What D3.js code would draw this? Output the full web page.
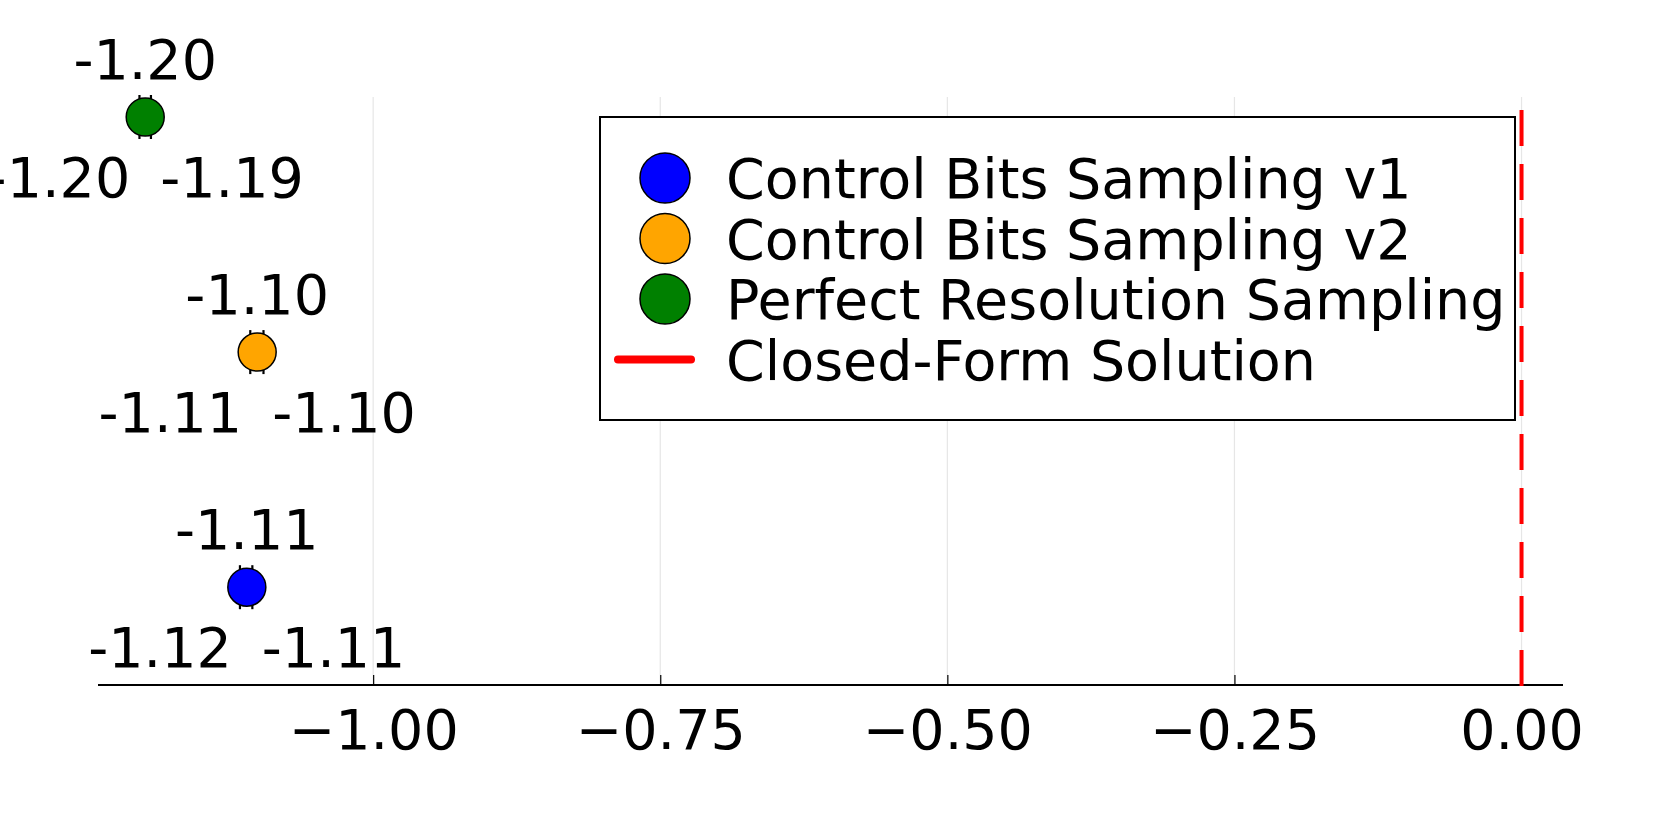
<!DOCTYPE html>
<html>
<head>
<meta charset="utf-8">
<script src="https://cdn.jsdelivr.net/npm/d3@7"></script>
<style>
	html, body { margin: 0; padding: 0; background: #fff; }
	svg { display: block; font-family: "DejaVu Sans", sans-serif; }
</style>
</head>
<body>
<svg id="chart" width="1661" height="830"></svg>
<script>
const seriesNames = ['Control Bits Sampling v1', 'Control Bits Sampling v2', 'Perfect Resolution Sampling'],
	seriesLevel = [1, 2, 3],
	seriesMean = [-1.1100, -1.1010, -1.1985],
	seriesLow = [-1.1160, -1.1070, -1.2035],
	seriesHigh = [-1.1052, -1.0955, -1.1935];

const closedForm = 0,
	closedFormName = 'Closed-Form Solution';

const xTicks = [-1.00, -0.75, -0.50, -0.25, 0.00];

const COLORS = ['#0000ff', '#ffa500', '#008000'],
	FONT = 55.5,
	MARKER_R = 19;

const width = 1661, height = 830,
	plot = { left: 98, right: 1563, top: 97, bottom: 685 };

const svg = d3.select('#chart');

// x range padded 3% like Plots.jl
const xMin = d3.min([...seriesLow, closedForm]),
	xMax = d3.max([...seriesHigh, closedForm]),
	pad = (xMax - xMin) * 0.03;

const x = d3.scaleLinear()
	.domain([xMin - pad, xMax + pad])
	.range([plot.left, plot.right]);

const y = d3.scaleLinear()
	.domain([0.584, 3.085])
	.range([plot.bottom, plot.top]);

const data = seriesNames.map((name, i) => ({
	name, level: seriesLevel[i], mean: seriesMean[i],
	lo: seriesLow[i], hi: seriesHigh[i], color: COLORS[i]
}));

// grid
svg.append('g')
	.selectAll('line')
	.data(xTicks)
	.join('line')
	.attr('x1', d => x(d)).attr('x2', d => x(d))
	.attr('y1', plot.top).attr('y2', plot.bottom)
	.attr('stroke', '#e6e6e6')
	.attr('stroke-width', 1.2);

// x axis
const axis = svg.append('g')
	.attr('transform', `translate(0,${plot.bottom})`)
	.call(d3.axisBottom(x)
		.tickValues(xTicks)
		.tickSize(-10)
		.tickSizeOuter(0)
		.tickFormat(d3.format('.2f'))
	);
axis.select('.domain').attr('stroke-width', 2).attr('d', `M${plot.left},0H${plot.right}`);
axis.selectAll('.tick line').attr('stroke-width', 1.2);
axis.selectAll('.tick text')
	.attr('y', 64).attr('dy', null)
	.attr('font-size', FONT)
	.attr('font-family', '"DejaVu Sans", sans-serif')
	.attr('fill', '#000');

// closed-form vline
svg.append('line')
	.attr('x1', x(closedForm)).attr('x2', x(closedForm))
	.attr('y1', plot.bottom + 1).attr('y2', plot.top)
	.attr('stroke', '#ff0000')
	.attr('stroke-width', 4)
	.attr('stroke-dasharray', '36 18');

// error bars with caps
const pts = svg.append('g');
data.forEach(d => {
	const cy = y(d.level);
	pts.append('line')
		.attr('x1', x(d.lo)).attr('x2', x(d.hi))
		.attr('y1', cy).attr('y2', cy)
		.attr('stroke', '#000').attr('stroke-width', 1.5);
	[d.lo, d.hi].forEach(v => {
		pts.append('line')
			.attr('x1', x(v)).attr('x2', x(v))
			.attr('y1', cy - 22).attr('y2', cy + 22)
			.attr('stroke', '#000').attr('stroke-width', 2.2);
	});
});

pts.selectAll('circle')
	.data(data)
	.join('circle')
	.attr('cx', d => x(d.mean))
	.attr('cy', d => y(d.level))
	.attr('r', MARKER_R)
	.attr('fill', d => d.color)
	.attr('stroke', '#000')
	.attr('stroke-width', 1.5);

// annotations: mean above, bounds below
const ann = svg.append('g').attr('font-size', FONT).attr('fill', '#000');
data.forEach(d => {
	const cx = x(d.mean), cy = y(d.level);
	ann.append('text').attr('x', cx).attr('y', cy - 38)
		.attr('text-anchor', 'middle').text(d.mean.toFixed(2));
	ann.append('text').attr('x', cx - 15).attr('y', cy + 80)
		.attr('text-anchor', 'end').text(d.lo.toFixed(2));
	ann.append('text').attr('x', cx + 15).attr('y', cy + 80)
		.attr('text-anchor', 'start').text(d.hi.toFixed(2));
});

// legend
const lg = svg.append('g');
lg.append('rect')
	.attr('x', 600).attr('y', 117)
	.attr('width', 915).attr('height', 303)
	.attr('fill', '#fff')
	.attr('stroke', '#000')
	.attr('stroke-width', 2);

const rowY = i => 178 + i * 60.5;

data.forEach((d, i) => {
	lg.append('circle')
		.attr('cx', 665).attr('cy', rowY(i))
		.attr('r', 25)
		.attr('fill', d.color)
		.attr('stroke', '#000')
		.attr('stroke-width', 1.5);
	lg.append('text')
		.attr('x', 726).attr('y', rowY(i) + 20)
		.attr('font-size', FONT)
		.text(d.name);
});

lg.append('line')
	.attr('x1', 618).attr('x2', 691)
	.attr('y1', rowY(3)).attr('y2', rowY(3))
	.attr('stroke', '#ff0000')
	.attr('stroke-width', 8)
	.attr('stroke-linecap', 'round');
lg.append('text')
	.attr('x', 726).attr('y', rowY(3) + 20)
	.attr('font-size', FONT)
	.text(closedFormName);
</script>
</body>
</html>
